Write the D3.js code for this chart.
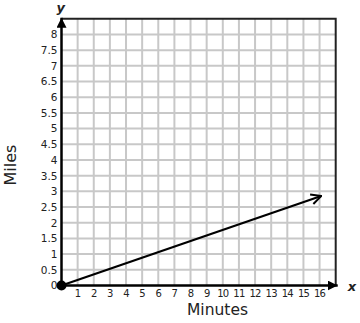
<!DOCTYPE html>
<html>
<head>
<meta charset="utf-8">
<script src="https://cdn.jsdelivr.net/npm/d3@7"></script>
<style>
    body { margin: 0; background: #fff; }
    text { font-family: "DejaVu Sans", Verdana, sans-serif; fill: #222; }
</style>
</head>
<body>
<svg id="chart" width="360" height="323"></svg>
<script>
// ------------------ DATA ------------------

let xTicks = [1, 2, 3, 4, 5, 6, 7, 8, 9, 10, 11, 12, 13, 14, 15, 16];
let yTicks = [0, 0.5, 1, 1.5, 2, 2.5, 3, 3.5, 4, 4.5, 5, 5.5, 6, 6.5, 7, 7.5, 8];
let lineX = [0, 16.1];   // minutes
let lineY = [0, 2.85];   // miles

// ------------------ SCALES ------------------

let svg = d3.select("#chart");
let x = d3.scaleLinear().domain([0, 17]).range([61.5, 335.7]);
let y = d3.scaleLinear().domain([0, 8.5]).range([285.5, 18.8]);

let defs = svg.append("defs");
defs.append("marker")
    .attr("id", "axis-arrow")
    .attr("viewBox", "0 0 10 10")
    .attr("refX", 10).attr("refY", 5)
    .attr("markerWidth", 10).attr("markerHeight", 10)
    .attr("markerUnits", "userSpaceOnUse")
    .attr("orient", "auto")
    .append("path")
    .attr("d", "M0,0 L10,5 L0,10 Z")
    .attr("fill", "#000");

defs.append("marker")
    .attr("id", "line-arrow")
    .attr("viewBox", "0 0 12 12")
    .attr("refX", 11).attr("refY", 6)
    .attr("markerWidth", 12).attr("markerHeight", 12)
    .attr("markerUnits", "userSpaceOnUse")
    .attr("orient", "auto")
    .append("path")
    .attr("d", "M1,1 L11,6 L1,11")
    .attr("fill", "none")
    .attr("stroke", "#000")
    .attr("stroke-width", 2);

// ------------------ GRID ------------------

let grid = svg.append("g").attr("class", "grid");

grid.selectAll("line.v")
    .data(xTicks)
    .enter().append("line")
    .attr("class", "v")
    .attr("x1", d => x(d)).attr("x2", d => x(d))
    .attr("y1", y(0)).attr("y2", y(8.5))
    .attr("stroke", "#c8c8c8")
    .attr("stroke-width", 2);

grid.selectAll("line.h")
    .data(yTicks.filter(d => d > 0))
    .enter().append("line")
    .attr("class", "h")
    .attr("x1", x(0)).attr("x2", x(17))
    .attr("y1", d => y(d)).attr("y2", d => y(d))
    .attr("stroke", "#c8c8c8")
    .attr("stroke-width", 2);

// top and right border
svg.append("path")
    .attr("d", "M" + x(0) + "," + y(8.5) + " H" + x(17) + " V" + y(0))
    .attr("fill", "none")
    .attr("stroke", "#222")
    .attr("stroke-width", 2);

// ------------------ AXES ------------------

svg.append("line")
    .attr("x1", x(0)).attr("x2", x(17) + 2)
    .attr("y1", y(0)).attr("y2", y(0))
    .attr("stroke", "#000")
    .attr("stroke-width", 2.5)
    .attr("marker-end", "url(#axis-arrow)");

svg.append("line")
    .attr("x1", x(0)).attr("x2", x(0))
    .attr("y1", y(0)).attr("y2", y(8.5) - 1)
    .attr("stroke", "#000")
    .attr("stroke-width", 2.5)
    .attr("marker-end", "url(#axis-arrow)");

let xAxis = svg.append("g")
    .attr("transform", "translate(0," + (y(0) + 4.5) + ")")
    .call(d3.axisBottom(x).tickValues(xTicks).tickSize(0).tickPadding(0));
xAxis.select(".domain").remove();
xAxis.selectAll("text")
    .attr("dx", "-0.5")
    .style("font-size", "10px")
    .style("letter-spacing", "-0.8px")
    .style("font-family", "DejaVu Sans, sans-serif")
    .attr("fill", "#222");

let yAxis = svg.append("g")
    .attr("transform", "translate(" + (x(0) - 4) + ",0)")
    .call(d3.axisLeft(y).tickValues(yTicks).tickSize(0).tickPadding(0).tickFormat(d3.format("")));
yAxis.select(".domain").remove();
yAxis.selectAll("text")
    .style("font-size", "10.5px")
    .style("font-family", "DejaVu Sans, sans-serif")
    .attr("fill", "#222");

// axis letters
svg.append("text")
    .attr("x", x(17) + 12).attr("y", y(0) + 5)
    .style("font-size", "13px")
    .style("font-weight", "bold")
    .style("font-style", "italic")
    .attr("fill", "#000")
    .text("x");

svg.append("text")
    .attr("x", x(0) - 5).attr("y", 12)
    .style("font-size", "13px")
    .style("font-weight", "bold")
    .style("font-style", "italic")
    .attr("fill", "#000")
    .text("y");

// axis titles
svg.append("text")
    .attr("x", 217.5).attr("y", 314.5)
    .attr("text-anchor", "middle")
    .style("font-size", "15.5px")
    .text("Minutes");

svg.append("text")
    .attr("transform", "translate(16,165) rotate(-90)")
    .attr("text-anchor", "middle")
    .style("font-size", "16px")
    .text("Miles");

// ------------------ LINE ------------------

let points = lineX.map((d, i) => [d, lineY[i]]);

svg.append("path")
    .datum(points)
    .attr("d", d3.line().x(d => x(d[0])).y(d => y(d[1])))
    .attr("fill", "none")
    .attr("stroke", "#000")
    .attr("stroke-width", 2.2)
    .attr("marker-end", "url(#line-arrow)");

svg.append("circle")
    .attr("cx", x(lineX[0]))
    .attr("cy", y(lineY[0]))
    .attr("r", 5)
    .attr("fill", "#000");
</script>
</body>
</html>
